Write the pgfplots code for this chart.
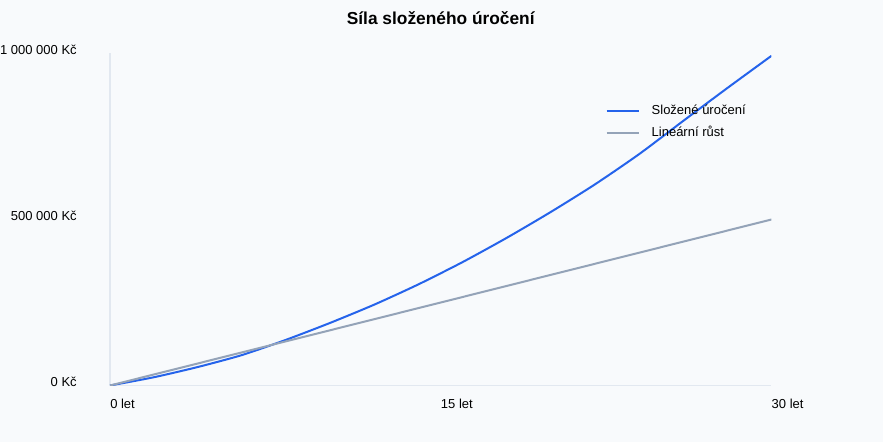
\documentclass[border=0pt]{standalone}
\usepackage{pgfplots}
\pgfplotsset{compat=1.18}
\usepackage{fontspec}
\setmainfont{Liberation Sans}

\definecolor{bgc}{HTML}{F8FAFC}
\definecolor{compc}{HTML}{2563EB}
\definecolor{linc}{HTML}{94A3B8}
\definecolor{axc}{HTML}{E2E8F0}

\begin{document}
\begin{tikzpicture}
	% page = 883 x 442 px, 1 px = 0.75pt; axis box lower left at the origin
	\path[use as bounding box, fill=bgc] (-82.5pt,-42.375pt) rectangle (579.75pt,289.125pt);
	\begin{axis}[
		at={(0,0)}, anchor=south west,
		scale only axis,
		width=496.1pt, height=249pt,
		xmin=0, xmax=30,
		ymin=0, ymax=1000000,
		axis x line*=bottom,
		axis y line*=left,
		x axis line style={draw=axc, line width=1.1pt, -},
		y axis line style={draw=axc, line width=0.8pt, -},
		major tick length=0pt,
		xtick={0,15,30},
		xticklabels={0 let, 15 let, 30 let},
		ytick={0,500000,1000000},
		yticklabels={0 Kč, 500 000 Kč, 1 000 000 Kč},
		scaled y ticks=false,
		xticklabel style={anchor=base west, inner sep=0pt, yshift=-17pt, font=\fontsize{9.75}{11.7}\selectfont},
		yticklabel style={anchor=base east, inner sep=0pt, xshift=-24.75pt, yshift=-0.9pt, font=\fontsize{9.75}{11.7}\selectfont},
		title={Síla složeného úročení},
		title style={at={(0.5,1)}, anchor=base, yshift=15.9pt, inner sep=0pt, font=\fontsize{13}{15.6}\selectfont\bfseries},
		legend cell align=left,
		legend style={draw=none, fill=none, at={(0.749,0.845)}, anchor=north west,
			inner sep=0pt, row sep=7.7pt,
			nodes={inner sep=0pt, text height=7pt, text depth=2pt},
			font=\fontsize{9.75}{11.7}\selectfont,
			/tikz/every odd column/.append style={column sep=8.5pt}},
		legend image code/.code={\draw[#1] (0pt,0pt) -- (24.5pt,0pt);},
	]
		% compound interest
		\addplot[compc, line width=1.5pt, smooth, tension=0.4] coordinates {
			(0,0) (2,25000) (4,56000) (6,92000) (8,138000) (10,189000)
			(12,244000) (14,305000) (16,372000) (18,445000) (20,523000)
			(22,606000) (24,697000) (26,797000) (28,896000) (30,993000)
		};
		% linear growth
		\addplot[linc, line width=1.5pt] coordinates {
			(0,0) (3,50000) (6,100000) (9,150000) (12,200000) (15,250000)
			(18,300000) (21,350000) (24,400000) (27,450000) (30,500000)
		};
		\legend{Složené úročení, Lineární růst}
	\end{axis}
\end{tikzpicture}
\end{document}
